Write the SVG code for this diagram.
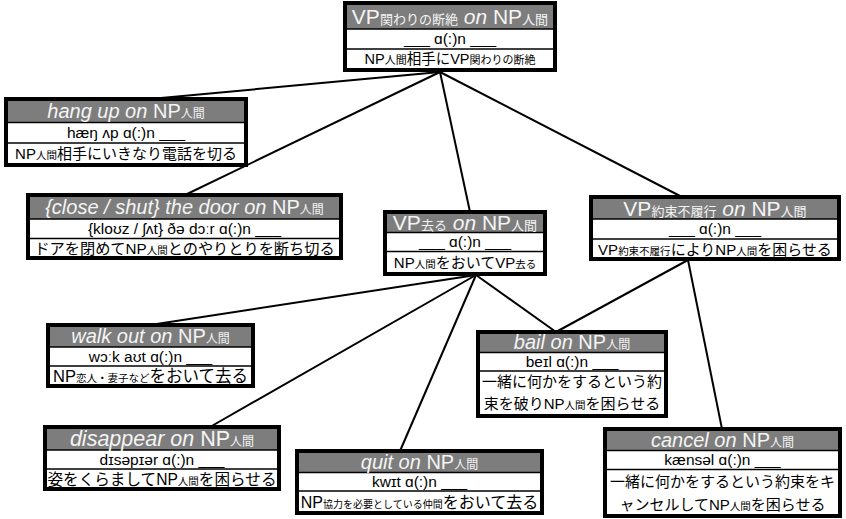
<svg xmlns="http://www.w3.org/2000/svg" width="846" height="519" viewBox="0 0 846 519">
  <style>
    text { font-family: "Liberation Sans", "Noto Sans CJK JP", sans-serif; text-anchor: middle; fill: #000; }
    .bg { fill: #fff; }
    .hd { fill: #7d7d7d; }
    .frame { fill: none; stroke: #000; stroke-width: 4; }
    .sep { stroke: #000; stroke-width: 1.5; }
    .ln { stroke: #000; stroke-width: 2; fill: none; }
    .t { font-size: 20px; fill: #f4f4f4; }
    .t .s { font-size: 12px; }
    .t.vp { font-size: 21px; }
    .t.vp .s { font-size: 13px; }
    .t.lg { font-size: 21.5px; }
    .i { font-style: italic; }
    .p { font-size: 15.5px; }
  </style>

  <!-- connectors (drawn first, so box frames cover the ends) -->
  <g id="connectors">
    <line class="ln" x1="440" y1="72" x2="150" y2="99"/>
    <line class="ln" x1="440" y1="72" x2="185" y2="195"/>
    <line class="ln" x1="440" y1="72" x2="470" y2="212"/>
    <line class="ln" x1="440" y1="72" x2="682" y2="197"/>
    <line class="ln" x1="476" y1="275" x2="150" y2="325"/>
    <line class="ln" x1="476" y1="275" x2="210" y2="427"/>
    <line class="ln" x1="476" y1="275" x2="400" y2="451"/>
    <line class="ln" x1="476" y1="275" x2="556" y2="332"/>
    <line class="ln" x1="688" y1="260" x2="556" y2="332"/>
    <line class="ln" x1="688" y1="260" x2="722" y2="429"/>
  </g>

  <!-- VP on NP (root) -->
  <g id="root">
    <rect class="bg" x="345" y="3" width="210" height="67"/>
    <rect class="hd" x="345" y="3" width="210" height="26"/>
    <line class="sep" x1="345" y1="29" x2="555" y2="29"/>
    <line class="sep" x1="345" y1="49" x2="555" y2="49"/>
    <rect class="frame" x="345" y="3" width="210" height="67"/>
    <text class="t vp" x="450" y="23.5">VP<tspan class="s">関わりの断絶</tspan> <tspan class="i">on</tspan> NP<tspan class="s">人間</tspan></text>
    <text class="p" x="450" y="44">___ ɑ(:)n ___</text>
    <text x="450" y="64" font-size="14.5">NP<tspan font-size="11">人間</tspan>相手にVP<tspan font-size="11">関わりの断絶</tspan></text>
  </g>

  <!-- hang up on -->
  <g id="hang-up">
    <rect class="bg" x="6" y="99" width="240" height="66"/>
    <rect class="hd" x="6" y="99" width="240" height="23.5"/>
    <line class="sep" x1="6" y1="122.5" x2="246" y2="122.5"/>
    <line class="sep" x1="6" y1="143" x2="246" y2="143"/>
    <rect class="frame" x="6" y="99" width="240" height="66"/>
    <text class="t" x="126" y="118"><tspan class="i">hang up on</tspan> NP<tspan class="s">人間</tspan></text>
    <text class="p" x="126" y="138">hæŋ ʌp ɑ(:)n ___</text>
    <text x="126" y="158.5" font-size="15">NP<tspan font-size="10.5">人間</tspan>相手にいきなり電話を切る</text>
  </g>

  <!-- close / shut the door on -->
  <g id="close-the-door">
    <rect class="bg" x="28" y="195" width="313" height="63"/>
    <rect class="hd" x="28" y="195" width="313" height="24"/>
    <line class="sep" x1="28" y1="219" x2="341" y2="219"/>
    <line class="sep" x1="28" y1="238.5" x2="341" y2="238.5"/>
    <rect class="frame" x="28" y="195" width="313" height="63"/>
    <text class="t" x="184.5" y="214"><tspan class="i">{close / shut} the door on</tspan> NP<tspan class="s">人間</tspan></text>
    <text class="p" x="184.5" y="233.5">{kloʊz / ʃʌt} ðə dɔːr ɑ(:)n ___</text>
    <text x="184.5" y="253.5" font-size="15.2">ドアを閉めてNP<tspan font-size="10.5">人間</tspan>とのやりとりを断ち切る</text>
  </g>

  <!-- VP(leave) on -->
  <g id="leave">
    <rect class="bg" x="385" y="212" width="160" height="62"/>
    <rect class="hd" x="385" y="212" width="160" height="20.5"/>
    <line class="sep" x1="385" y1="232.5" x2="545" y2="232.5"/>
    <line class="sep" x1="385" y1="251.5" x2="545" y2="251.5"/>
    <rect class="frame" x="385" y="212" width="160" height="62"/>
    <text class="t vp" x="465" y="229.5">VP<tspan class="s">去る</tspan> <tspan class="i">on</tspan> NP<tspan class="s">人間</tspan></text>
    <text class="p" x="465" y="247">___ ɑ(:)n ___</text>
    <text x="465" y="268" font-size="15">NP<tspan font-size="10.5">人間</tspan>をおいてVP<tspan font-size="10.5">去る</tspan></text>
  </g>

  <!-- VP(break a promise) on -->
  <g id="break-promise">
    <rect class="bg" x="591" y="197" width="248" height="62"/>
    <rect class="hd" x="591" y="197" width="248" height="22"/>
    <line class="sep" x1="591" y1="219" x2="839" y2="219"/>
    <line class="sep" x1="591" y1="239" x2="839" y2="239"/>
    <rect class="frame" x="591" y="197" width="248" height="62"/>
    <text class="t vp" x="715" y="215.5">VP<tspan class="s">約束不履行</tspan> <tspan class="i">on</tspan> NP<tspan class="s">人間</tspan></text>
    <text class="p" x="715" y="234">___ ɑ(:)n ___</text>
    <text x="715" y="254.5" font-size="15">VP<tspan font-size="10.5">約束不履行</tspan>によりNP<tspan font-size="10.5">人間</tspan>を困らせる</text>
  </g>

  <!-- walk out on -->
  <g id="walk-out">
    <rect class="bg" x="48" y="325" width="205" height="61"/>
    <rect class="hd" x="48" y="325" width="205" height="22"/>
    <line class="sep" x1="48" y1="347" x2="253" y2="347"/>
    <line class="sep" x1="48" y1="366" x2="253" y2="366"/>
    <rect class="frame" x="48" y="325" width="205" height="61"/>
    <text class="t" x="150.5" y="343"><tspan class="i">walk out on</tspan> NP<tspan class="s">人間</tspan></text>
    <text class="p" x="150.5" y="361.5">wɔːk aʊt ɑ(:)n ___</text>
    <text x="150.5" y="381.5" font-size="16.5">NP<tspan font-size="10.5">恋人・妻子など</tspan>をおいて去る</text>
  </g>

  <!-- bail on -->
  <g id="bail">
    <rect class="bg" x="478" y="332" width="188" height="84"/>
    <rect class="hd" x="478" y="332" width="188" height="20.5"/>
    <line class="sep" x1="478" y1="352.5" x2="666" y2="352.5"/>
    <line class="sep" x1="478" y1="371" x2="666" y2="371"/>
    <rect class="frame" x="478" y="332" width="188" height="84"/>
    <text class="t" x="572" y="349"><tspan class="i">bail on</tspan> NP<tspan class="s">人間</tspan></text>
    <text class="p" x="572" y="367">beɪl ɑ(:)n ___</text>
    <text x="572" y="386.5" font-size="15">一緒に何かをするという約</text>
    <text x="572" y="408.5" font-size="15">束を破りNP<tspan font-size="10.5">人間</tspan>を困らせる</text>
  </g>

  <!-- disappear on -->
  <g id="disappear">
    <rect class="bg" x="45" y="427" width="234" height="62"/>
    <rect class="hd" x="45" y="427" width="234" height="23"/>
    <line class="sep" x1="45" y1="450" x2="279" y2="450"/>
    <line class="sep" x1="45" y1="469" x2="279" y2="469"/>
    <rect class="frame" x="45" y="427" width="234" height="62"/>
    <text class="t lg" x="162" y="446"><tspan class="i">disappear on</tspan> NP<tspan class="s">人間</tspan></text>
    <text class="p" x="162" y="464.5">dɪsəpɪər ɑ(:)n ___</text>
    <text x="162" y="484.5" font-size="15.6">姿をくらましてNP<tspan font-size="10.5">人間</tspan>を困らせる</text>
  </g>

  <!-- quit on -->
  <g id="quit">
    <rect class="bg" x="297" y="451" width="245" height="62"/>
    <rect class="hd" x="297" y="451" width="245" height="21.5"/>
    <line class="sep" x1="297" y1="472.5" x2="542" y2="472.5"/>
    <line class="sep" x1="297" y1="491" x2="542" y2="491"/>
    <rect class="frame" x="297" y="451" width="245" height="62"/>
    <text class="t" x="419.5" y="469"><tspan class="i">quit on</tspan> NP<tspan class="s">人間</tspan></text>
    <text class="p" x="419.5" y="487">kwɪt ɑ(:)n ___</text>
    <text x="419.5" y="507.5" font-size="16">NP<tspan font-size="10">協力を必要としている仲間</tspan>をおいて去る</text>
  </g>

  <!-- cancel on -->
  <g id="cancel">
    <rect class="bg" x="605" y="429" width="235" height="87"/>
    <rect class="hd" x="605" y="429" width="235" height="21.5"/>
    <line class="sep" x1="605" y1="450.5" x2="840" y2="450.5"/>
    <line class="sep" x1="605" y1="469.5" x2="840" y2="469.5"/>
    <rect class="frame" x="605" y="429" width="235" height="87"/>
    <text class="t" x="722.5" y="447"><tspan class="i">cancel on</tspan> NP<tspan class="s">人間</tspan></text>
    <text class="p" x="722.5" y="465">kænsəl ɑ(:)n ___</text>
    <text x="722.5" y="486.5" font-size="15">一緒に何かをするという約束をキ</text>
    <text x="722.5" y="509.5" font-size="15">ャンセルしてNP<tspan font-size="10.5">人間</tspan>を困らせる</text>
  </g>
</svg>
